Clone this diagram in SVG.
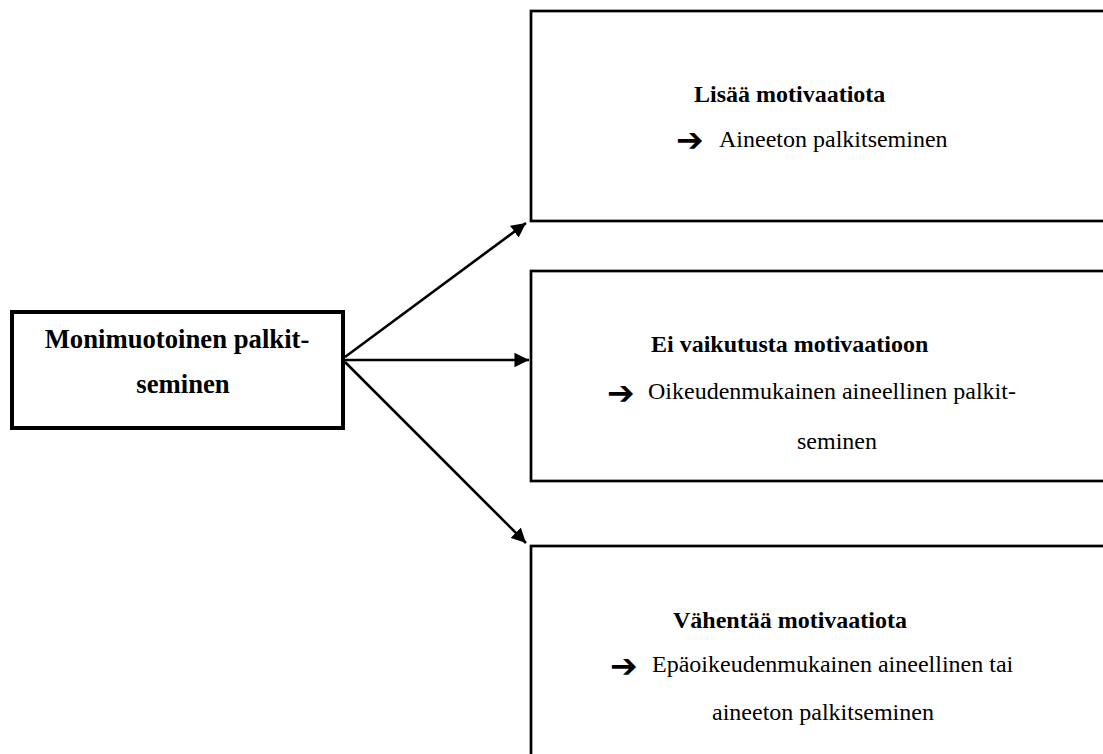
<svg xmlns="http://www.w3.org/2000/svg" width="1103" height="754" viewBox="0 0 1103 754">
<defs>
<style>
.box{fill:#fff;stroke:#000;stroke-width:2.7}
.bold{font-family:"Liberation Serif","Times New Roman",serif;font-weight:bold;font-size:24px;fill:#000}
.reg{font-family:"Liberation Serif","Times New Roman",serif;font-size:24px;fill:#000}
.sym{font-family:"DejaVu Sans",sans-serif;font-size:33px;font-weight:bold;fill:#000}
.conn{stroke:#000;stroke-width:2.6;fill:none}
</style>
<marker id="ah" viewBox="0 0 10 10" refX="10" refY="5" markerWidth="5.6" markerHeight="5.6" markerUnits="strokeWidth" orient="auto">
<path d="M0,0 L10,5 L0,10 z" fill="#000"/>
</marker>
</defs>
<rect width="1103" height="754" fill="#fff"/>
<g id="connectors">
<line class="conn" x1="345" y1="357" x2="526" y2="223" marker-end="url(#ah)"/>
<line class="conn" x1="345" y1="360" x2="529" y2="360" marker-end="url(#ah)"/>
<line class="conn" x1="345" y1="362" x2="526" y2="543" marker-end="url(#ah)"/>
</g>
<g id="node-source">
<rect x="12" y="312" width="331" height="116" fill="#fff" stroke="#000" stroke-width="4"/>
<text class="bold" x="177" y="348" text-anchor="middle" style="font-size:26.7px">Monimuotoinen palkit-</text>
<text class="bold" x="183" y="393" text-anchor="middle" style="font-size:26.7px">seminen</text>
</g>
<g id="node-increase">
<rect class="box" x="531" y="11" width="600" height="210"/>
<text class="bold" x="694" y="102">Lisää motivaatiota</text>
<text class="sym" x="676" y="151">➔</text>
<text class="reg" x="719" y="147">Aineeton palkitseminen</text>
</g>
<g id="node-neutral">
<rect class="box" x="531" y="271" width="600" height="210"/>
<text class="bold" x="651" y="352">Ei vaikutusta motivaatioon</text>
<text class="sym" x="607" y="404">➔</text>
<text class="reg" x="648" y="399">Oikeudenmukainen aineellinen palkit-</text>
<text class="reg" x="797" y="449">seminen</text>
</g>
<g id="node-decrease">
<rect class="box" x="531" y="546" width="600" height="230"/>
<text class="bold" x="673" y="628">Vähentää motivaatiota</text>
<text class="sym" x="610" y="677">➔</text>
<text class="reg" x="652" y="672">Epäoikeudenmukainen aineellinen tai</text>
<text class="reg" x="712" y="720">aineeton palkitseminen</text>
</g>
</svg>
